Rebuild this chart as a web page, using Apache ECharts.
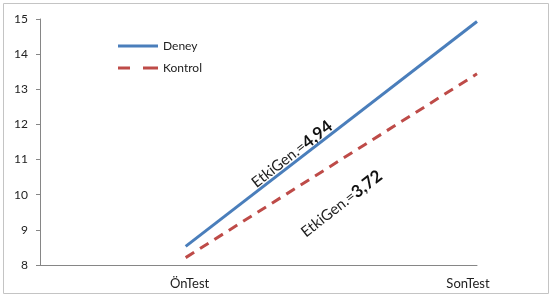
<!DOCTYPE html>
<html>
<head>
<meta charset="utf-8">
<script src="https://cdn.jsdelivr.net/npm/echarts@6/dist/echarts.min.js"></script>
<style>
  html, body { margin: 0; padding: 0; background: #fff; }
  #chart { width: 556px; height: 298px; }
</style>
</head>
<body>
<div id="chart"></div>
<script>
// x positions: 0 is empty space on the left, the two tests sit at 1 and 3
const tickLabels = { 1: 'ÖnTest', 3: 'SonTest' };
const testPos = [1, 3];
const deney = [8.53, 14.93];
const kontrol = [8.21, 13.44];
const yTicks = [8, 9, 10, 11, 12, 13, 14, 15];

// effect size notes: [x, y] in data units, text, value
const notes = [
    { at: [1.73, 11.15], label: 'EtkiGen.=', value: '4,94' },
    { at: [2.07, 9.74], label: 'EtkiGen.=', value: '3,72' }
];

const font = 'Lato, "Noto Sans", sans-serif';
const chart = echarts.init(document.getElementById('chart'));

chart.setOption({
    animation: false,
    textStyle: { fontFamily: font },
    grid: { left: 40, right: 79, top: 19, bottom: 33 },
    legend: {
        orient: 'vertical',
        left: 113,
        top: 35,
        itemWidth: 40,
        itemHeight: 3,
        itemGap: 10,
        textStyle: { fontSize: 12, color: '#222', fontFamily: font },
        data: [
            { name: 'Deney', icon: 'path://M0,0H40V3H0Z' },
            { name: 'Kontrol', icon: 'path://M0,0H12V3H0Z M25,0H40V3H25Z' }
        ]
    },
    xAxis: {
        type: 'value',
        min: 0,
        max: 3,
        interval: 1,
        splitLine: { show: false },
        axisTick: { show: false },
        axisLine: { lineStyle: { color: '#868686' } },
        axisLabel: {
            fontSize: 13,
            color: '#222',
            margin: 12,
            // Excel puts the labels a little inward of the points
            formatter: v => v === 1 ? '{l|' + tickLabels[v] + '}' : v === 3 ? '{r|' + tickLabels[v] + '}' : '',
            rich: {
                l: { fontSize: 13, color: '#222', padding: [0, 0, 0, 8] },
                r: { fontSize: 13, color: '#222', padding: [0, 18, 0, 0] }
            },
            showMaxLabel: true
        }
    },
    yAxis: {
        type: 'value',
        min: yTicks[0],
        max: yTicks[yTicks.length - 1],
        interval: 1,
        splitLine: { show: false },
        axisLine: { show: true, lineStyle: { color: '#868686' } },
        axisTick: { show: true, length: 4, lineStyle: { color: '#868686' } },
        axisLabel: { fontSize: 12, color: '#222', margin: 12 }
    },
    series: [
        {
            name: 'Deney',
            type: 'line',
            symbol: 'none',
            data: testPos.map((x, i) => [x, deney[i]]),
            lineStyle: { color: '#4a7ebb', width: 3 },
            itemStyle: { color: '#4a7ebb' }
        },
        {
            name: 'Kontrol',
            type: 'line',
            symbol: 'none',
            data: testPos.map((x, i) => [x, kontrol[i]]),
            lineStyle: { color: '#be4b48', width: 3, type: [10, 7] },
            itemStyle: { color: '#be4b48' }
        }
    ]
});

// outer frame + rotated notes placed from data coordinates
const elements = [{
    type: 'rect',
    shape: { x: 3.5, y: 3.5, width: 545, height: 290 },
    style: { fill: 'none', stroke: '#c4c4c4', lineWidth: 1 },
    silent: true
}];
notes.forEach(n => {
    const p = chart.convertToPixel({ gridIndex: 0 }, n.at);
    elements.push({
        type: 'text',
        x: p[0],
        y: p[1],
        rotation: 38 * Math.PI / 180,
        style: {
            text: '{a|' + n.label + '}{b|' + n.value + '}',
            align: 'center',
            verticalAlign: 'middle',
            rich: {
                a: { fontSize: 15, fontFamily: font, fill: '#222' },
                b: { fontSize: 17, fontFamily: font, fontWeight: 'bold', fill: '#111' }
            }
        }
    });
});
chart.setOption({ graphic: elements });
</script>
</body>
</html>
